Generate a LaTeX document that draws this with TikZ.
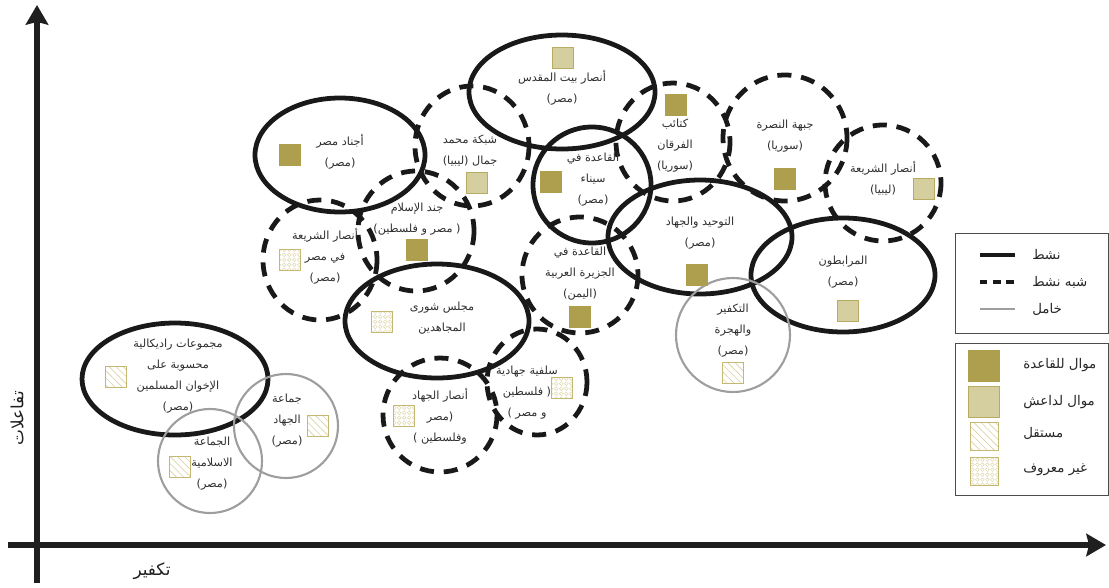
\documentclass[tikz,border=0pt]{standalone}
\usepackage{fontspec}
\newfontfamily\arfont[Script=Arabic]{DejaVu Sans}
\TeXXeTstate=1
\usetikzlibrary{arrows.meta,patterns.meta}

\definecolor{qaedaolive}{HTML}{AD9F4E}
\definecolor{isisfill}{HTML}{D5CE9E}
\definecolor{isisdraw}{HTML}{B8AC62}
\definecolor{indepdraw}{HTML}{C4B872}
\definecolor{indeplines}{HTML}{DAD2A2}

\newcommand{\artext}[1]{\beginR#1\endR}

\tikzdeclarepattern{
  name=rings,
  type=uncolored,
  bounding box={(0pt,0pt) and (3.4pt,3.4pt)},
  tile size={(3.4pt,3.4pt)},
  code={\draw[line width=0.3pt] (1.7pt,1.7pt) circle[radius=1.35pt];}
}

\begin{document}
\begin{tikzpicture}[
  x=0.025cm, y=-0.025cm,
  axis/.style={line width=3.6pt, draw=black!88, -{Stealth[length=14pt, width=16pt, inset=2pt]}},
  active/.style={line width=3.4pt, draw=black!90},
  semiactive/.style={line width=3.4pt, draw=black!90, dash pattern=on 10pt off 7pt},
  dormant/.style={line width=1.5pt, draw=black!38},
  lbl/.style={font=\arfont\fontsize{8}{14.9}\selectfont, text=black!82, align=center, inner sep=0pt},
  legendlbl/.style={font=\arfont\fontsize{9.5}{11}\selectfont, text=black!85, anchor=west, inner sep=0pt},
  axislbl/.style={font=\arfont\fontsize{12}{14}\selectfont, text=black!88, inner sep=0pt},
  marker/.style={minimum size=0.525cm, inner sep=0pt, line width=0.7pt},
  qaeda/.style={marker, fill=qaedaolive, draw=qaedaolive},
  isis/.style={marker, fill=isisfill, draw=isisdraw},
  indep/.style={marker, draw=indepdraw, pattern={Lines[angle=-45, distance=3.6pt, line width=0.45pt]}, pattern color=indeplines},
  unknown/.style={marker, draw=indepdraw, pattern=rings, pattern color=indeplines},
  legendbox/.style={draw=black!70, line width=0.6pt}
]
\useasboundingbox (0,0) rectangle (1109,587);

% axes
\draw[axis] (37,583) -- (37,5);
\draw[axis] (8,545) -- (1106,545);
\node[axislbl] (xlbl) at (152,571) {\artext{تكفير}};
\node[axislbl, rotate=90] (ylbl) at (17,418) {\artext{تفاعلات}};

% groups
\draw[active] (175,379) ellipse [x radius=93, y radius=56];
\draw[dormant] (210,461) circle [radius=52];
\draw[dormant] (286,426) circle [radius=52];
\draw[active] (340,155) ellipse [x radius=85, y radius=57];
\draw[semiactive] (472,146) ellipse [x radius=57, y radius=60];
\draw[semiactive] (416,231) ellipse [x radius=58, y radius=60];
\draw[semiactive] (320,260) ellipse [x radius=57, y radius=60];
\draw[active] (437,321) ellipse [x radius=92, y radius=57];
\draw[semiactive] (440,415) ellipse [x radius=57, y radius=57];
\draw[semiactive] (537,382) ellipse [x radius=50, y radius=53];
\draw[semiactive] (580,275) ellipse [x radius=58, y radius=58];
\draw[active] (562,92) ellipse [x radius=93, y radius=57];
\draw[active] (592,185) ellipse [x radius=59, y radius=58];
\draw[semiactive] (673,142) ellipse [x radius=57, y radius=59];
\draw[semiactive] (785,138) ellipse [x radius=62, y radius=63];
\draw[semiactive] (883,183) ellipse [x radius=58, y radius=58];
\draw[active] (700,237) ellipse [x radius=92, y radius=57];
\draw[active] (843,275) ellipse [x radius=92, y radius=57];
\draw[dormant] (733,335) circle [radius=57];

% markers
\node[indep] (ikhsq) at (116,377) {};
\node[indep] (islsq) at (180,467) {};
\node[indep] (jihsq) at (318,426) {};
\node[qaeda] (ajnsq) at (290,155) {};
\node[isis] (shbsq) at (477,183) {};
\node[qaeda] (jndsq) at (417,250) {};
\node[unknown] (shesq) at (290,260) {};
\node[unknown] (shrsq) at (382,322) {};
\node[unknown] (ansq) at (404,416) {};
\node[unknown] (slfsq) at (562,388) {};
\node[qaeda] (aqpsq) at (580,317) {};
\node[isis] (bmqsq) at (563,58) {};
\node[qaeda] (snisq) at (551,182) {};
\node[qaeda] (frqsq) at (676,105) {};
\node[qaeda] (nsrsq) at (785,179) {};
\node[isis] (shlsq) at (924,189) {};
\node[qaeda] (twhsq) at (697,275) {};
\node[isis] (mrbsq) at (848,311) {};
\node[indep] (tkfsq) at (733,373) {};

% names
\node[lbl] (ikh) at (178,376) {\artext{مجموعات راديكالية}\\\artext{محسوبة على}\\\artext{الإخوان المسلمين}\\\artext{(مصر)}};
\node[lbl] (isl) at (212,464) {\artext{الجماعة}\\\artext{الاسلامية}\\\artext{(مصر)}};
\node[lbl] (jih) at (287,421) {\artext{جماعة}\\\artext{الجهاد}\\\artext{(مصر)}};
\node[lbl] (ajn) at (340,152) {\artext{أجناد مصر}\\\artext{(مصر)}};
\node[lbl] (shb) at (470,151) {\artext{شبكة محمد}\\\artext{جمال (ليبيا)}};
\node[lbl] (jnd) at (417,219) {\artext{جند الإسلام}\\\artext{( مصر و فلسطين)}};
\node[lbl] (she) at (325,256) {\artext{أنصار الشريعة}\\\artext{في مصر}\\\artext{(مصر)}};
\node[lbl] (shr) at (442,318) {\artext{مجلس شورى}\\\artext{المجاهدين}};
\node[lbl] (ans) at (440,416) {\artext{أنصار الجهاد}\\\artext{(مصر}\\\artext{وفلسطين )}};
\node[lbl] (slf) at (527,393) {\artext{سلفية جهادية}\\\artext{( فلسطين}\\\artext{و مصر )}};
\node[lbl] (aqp) at (580,274) {\artext{القاعدة في}\\\artext{الجزيرة العربية}\\\artext{(اليمن)}};
\node[lbl] (bmq) at (562,88) {\artext{أنصار بيت المقدس}\\\artext{(مصر)}};
\node[lbl] (sni) at (593,180) {\artext{القاعدة في}\\\artext{سيناء}\\\artext{(مصر)}};
\node[lbl] (frq) at (675,146) {\artext{كتائب}\\\artext{الفرقان}\\\artext{(سوريا)}};
\node[lbl] (nsr) at (785,136) {\artext{جبهة النصرة}\\\artext{(سوريا)}};
\node[lbl] (shl) at (883,178) {\artext{أنصار الشريعة}\\\artext{(ليبيا)}};
\node[lbl] (twh) at (700,233) {\artext{التوحيد والجهاد}\\\artext{(مصر)}};
\node[lbl] (mrb) at (843,272) {\artext{المرابطون}\\\artext{(مصر)}};
\node[lbl] (tkf) at (733,331) {\artext{التكفير}\\\artext{والهجرة}\\\artext{(مصر)}};

% legend
\draw[legendbox] (955,233) rectangle (1108,333);
\draw[line width=3.4pt, draw=black!90] (980,255) -- (1015,255);
\draw[line width=3.4pt, draw=black!90, dash pattern=on 5.2pt off 4.2pt] (980,282) -- (1015,282);
\draw[line width=1.3pt, draw=black!38] (980,309) -- (1015,309);
\node[legendlbl] (lgact) at (1032,255) {\artext{نشط}};
\node[legendlbl] (lgsemi) at (1032,282) {\artext{شبه نشط}};
\node[legendlbl] (lgdorm) at (1032,309) {\artext{خامل}};

\draw[legendbox] (955,343) rectangle (1108,495);
\node[qaeda, minimum size=0.78cm] (lgqsq) at (984,366) {};
\node[isis, minimum size=0.78cm] (lgisq) at (984,402) {};
\node[indep, minimum size=0.7cm] (lgnsq) at (984,436) {};
\node[unknown, minimum size=0.7cm] (lgusq) at (984,471) {};
\node[legendlbl] (lgq) at (1023,365) {\artext{موال للقاعدة}};
\node[legendlbl] (lgi) at (1023,402) {\artext{موال لداعش}};
\node[legendlbl] (lgn) at (1023,433) {\artext{مستقل}};
\node[legendlbl] (lgu) at (1023,470) {\artext{غير معروف}};
\end{tikzpicture}
\end{document}
